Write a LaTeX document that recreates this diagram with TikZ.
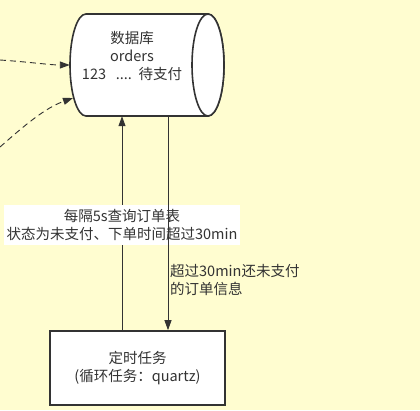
\documentclass[tikz,border=0pt]{standalone}
\usepackage{fontspec}
\setmainfont{Noto Sans CJK SC}
\usetikzlibrary{arrows.meta}
\definecolor{bg}{RGB}{255,253,208}
\definecolor{ink}{RGB}{51,51,51}
\tikzset{
  shapeline/.style={draw=ink,line width=1.6pt,fill=white},
  conn/.style={draw=ink,line width=0.9pt,-{Triangle[length=10pt,width=7pt]}},
  dconn/.style={conn,dash pattern=on 6pt off 4pt},
  txt/.style={text=ink,font=\fontsize{14.5pt}{18pt}\selectfont,align=center,inner sep=0pt},
}
\begin{document}
\begin{tikzpicture}[x=1pt,y=-1pt]
\fill[bg] (0,0) rectangle (420,410);
\useasboundingbox (0,0) rectangle (420,410);
% database cylinder
\path[shapeline] (86,14) -- (208,14) arc[start angle=-90,end angle=90,x radius=16,y radius=51]
  -- (86,116) arc[start angle=90,end angle=270,x radius=16,y radius=51] -- cycle;
\draw[shapeline] (208,65) ellipse[x radius=16,y radius=51];
\node[inner sep=0pt,minimum width=154pt,minimum height=102pt] (db) at (147,65) {};
\node[txt] (dbtext) at (132,56) {数据库\\orders\\123\ \ \ ....\ \ 待支付};
% timer box
\node[shapeline,txt,minimum width=175pt,minimum height=74pt] (timer) at (137.5,368) {定时任务\\(循环任务：quartz)};
% connectors
\coordinate (src1) at (0,60);
\coordinate (src2) at (0,147);
\coordinate (hit2) at (73,98);
\draw[dconn] (src1) .. controls (30,62) and (50,65) .. (db.west);
\draw[dconn] (src2) .. controls (25,125) and (45,108) .. (hit2);
\draw[conn] (timer.north -| 122,0) -- (db.south -| 122,0);
\node[txt,fill=white,minimum width=236pt,minimum height=40pt] (lbl1) at (122,225) {每隔5s查询订单表\\状态为未支付、下单时间超过30min};
\draw[conn] (db.south -| 168,0) -- (timer.north -| 168,0);
\node[txt,align=left,anchor=north west] (lbl2) at (170,264) {超过30min还未支付\\的订单信息};
\end{tikzpicture}
\end{document}
